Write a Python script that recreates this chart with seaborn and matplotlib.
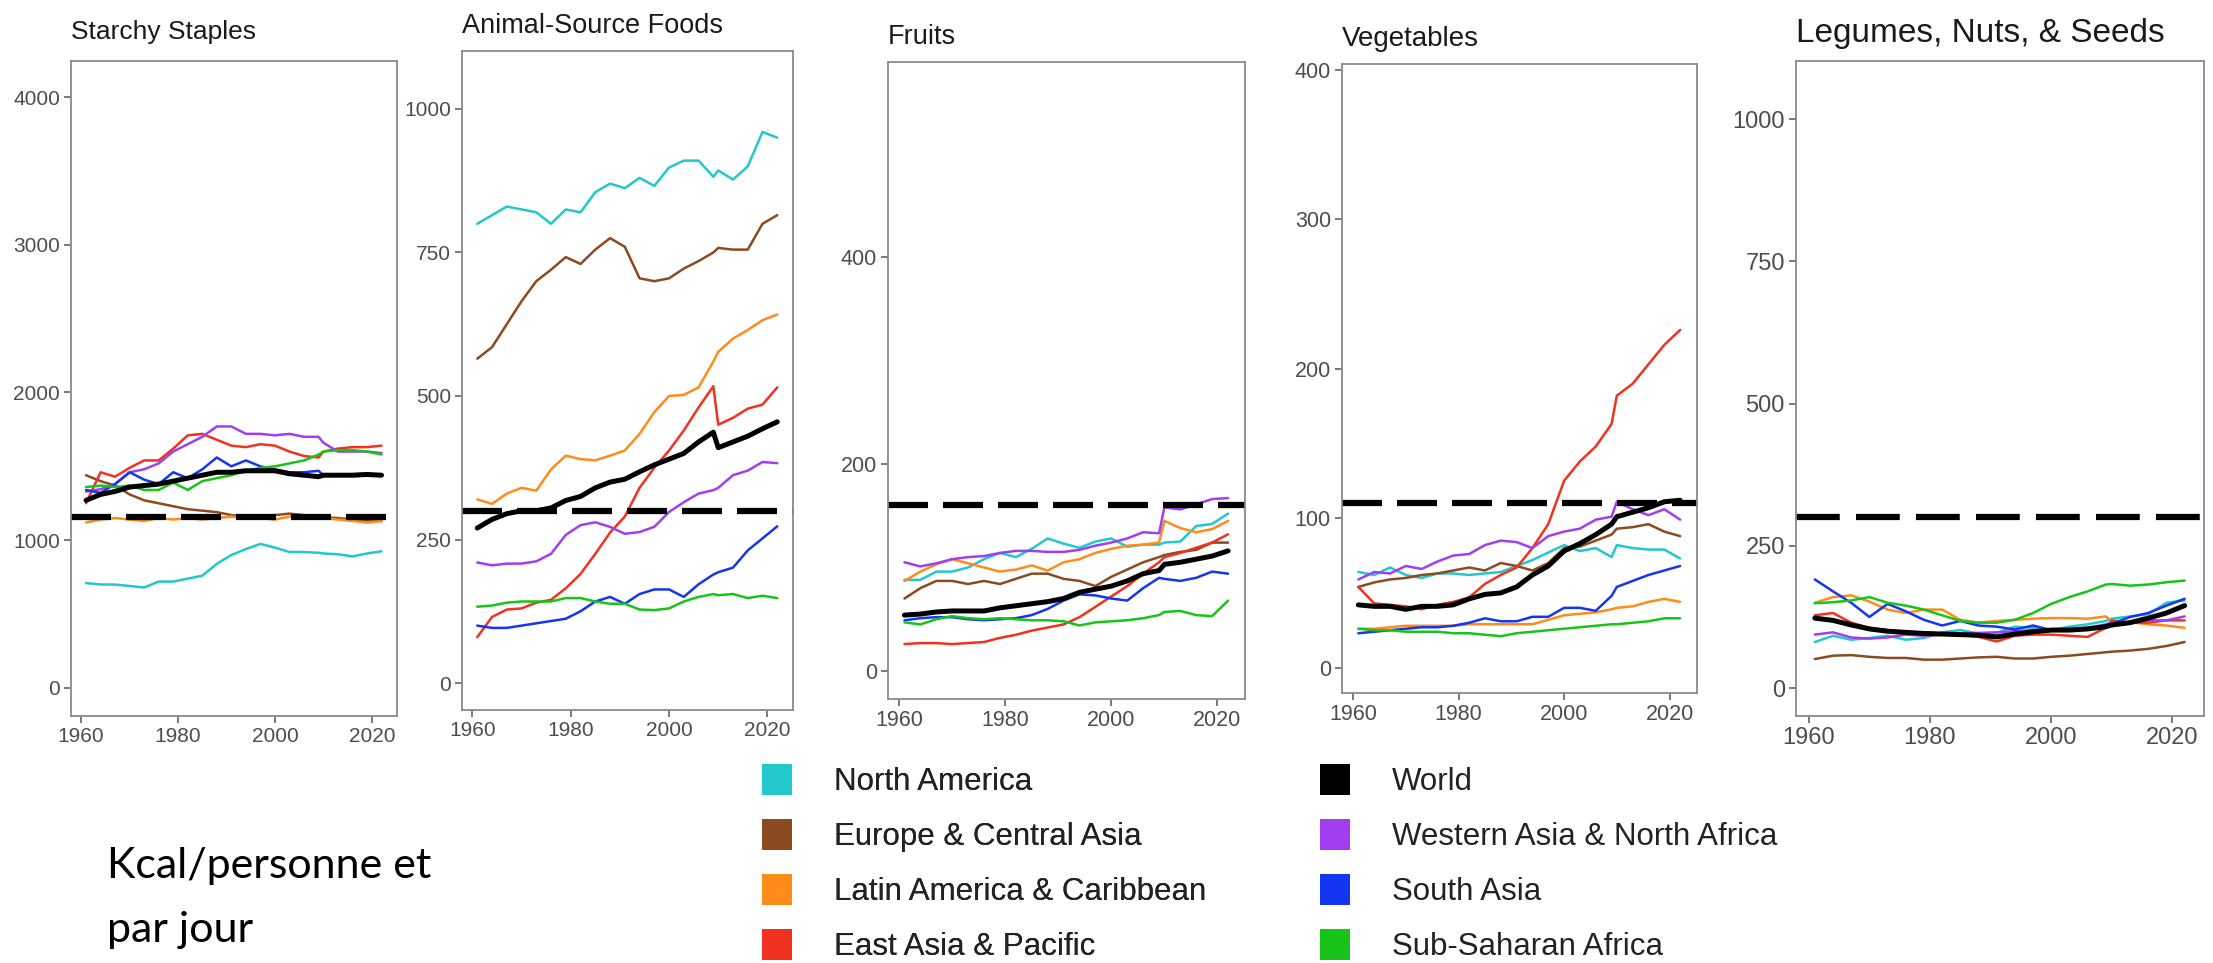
import matplotlib
matplotlib.use("Agg")
import matplotlib.pyplot as plt
from matplotlib.patches import Patch
import seaborn as sns
import pandas as pd

# ---- data (kcal / person / day) ----
YEARS = [1961, 1964, 1967, 1970, 1973, 1976, 1979, 1982, 1985, 1988, 1991,
         1994, 1997, 2000, 2003, 2006, 2009, 2010, 2013, 2016, 2019, 2022]

REGIONS = ["North America", "Europe & Central Asia", "Latin America & Caribbean",
           "East Asia & Pacific", "World", "Western Asia & North Africa",
           "South Asia", "Sub-Saharan Africa"]
COLORS = ["#22c8cc", "#8b4a20", "#ff8c1a", "#f0321e",
          "#000000", "#a03ef0", "#1436f0", "#18c418"]

PANEL_TITLES = ["Starchy Staples", "Animal-Source Foods", "Fruits",
                "Vegetables", "Legumes, Nuts, & Seeds"]
REF_LINES = [1160, 300, 160, 110, 300]
Y_TICKS = [[0, 1000, 2000, 3000, 4000], [0, 250, 500, 750, 1000], [0, 200, 400],
           [0, 100, 200, 300, 400], [0, 250, 500, 750, 1000]]
X_TICKS = [1960, 1980, 2000, 2020]

# Starchy staples
ss_na = [710, 700, 700, 690, 680, 720, 720, 740, 760, 840, 900, 940, 975, 950, 920, 920, 915, 910, 905, 890, 910, 925]
ss_eca = [1440, 1400, 1370, 1310, 1270, 1250, 1230, 1210, 1200, 1190, 1170, 1160, 1160, 1170, 1180, 1170, 1160, 1155, 1150, 1140, 1130, 1130]
ss_lac = [1120, 1140, 1150, 1140, 1130, 1150, 1140, 1150, 1140, 1150, 1160, 1150, 1150, 1140, 1160, 1160, 1150, 1150, 1140, 1130, 1120, 1130]
ss_eap = [1250, 1460, 1430, 1490, 1540, 1540, 1620, 1710, 1720, 1680, 1640, 1630, 1650, 1640, 1600, 1570, 1560, 1600, 1620, 1630, 1630, 1640]
ss_world = [1270, 1310, 1330, 1360, 1370, 1380, 1400, 1420, 1440, 1460, 1460, 1470, 1470, 1470, 1450, 1440, 1430, 1440, 1440, 1440, 1445, 1440]
ss_wana = [1330, 1345, 1380, 1460, 1480, 1520, 1600, 1650, 1700, 1770, 1770, 1720, 1720, 1710, 1720, 1700, 1700, 1660, 1600, 1600, 1600, 1590]
ss_sa = [1340, 1320, 1380, 1460, 1410, 1380, 1460, 1420, 1480, 1560, 1500, 1540, 1500, 1480, 1460, 1460, 1470, 1440, 1440, 1445, 1450, 1440]
ss_ssa = [1360, 1370, 1360, 1370, 1340, 1340, 1390, 1340, 1400, 1420, 1440, 1470, 1490, 1500, 1520, 1540, 1580, 1600, 1610, 1610, 1600, 1580]

# Animal-source foods
asf_na = [800, 815, 830, 825, 820, 800, 825, 820, 855, 870, 862, 880, 866, 898, 910, 910, 882, 893, 877, 900, 960, 950]
asf_eca = [565, 585, 625, 665, 700, 720, 742, 730, 755, 775, 760, 705, 700, 705, 722, 735, 750, 758, 755, 755, 800, 815]
asf_lac = [320, 312, 330, 340, 335, 372, 396, 390, 388, 396, 405, 434, 472, 500, 502, 515, 560, 577, 600, 615, 632, 642]
asf_eap = [80, 115, 128, 130, 140, 145, 165, 190, 225, 262, 290, 340, 375, 405, 440, 480, 517, 450, 462, 478, 485, 515]
asf_world = [270, 285, 295, 300, 300, 305, 318, 325, 340, 350, 355, 368, 380, 390, 400, 420, 437, 410, 420, 430, 443, 455]
asf_wana = [210, 205, 208, 208, 212, 225, 258, 275, 280, 272, 260, 263, 272, 298, 315, 330, 336, 340, 362, 370, 385, 383]
asf_sa = [100, 96, 96, 100, 104, 108, 112, 125, 142, 150, 138, 155, 163, 163, 150, 172, 189, 193, 201, 231, 252, 273]
asf_ssa = [133, 135, 140, 142, 142, 142, 148, 148, 142, 138, 138, 128, 127, 130, 142, 150, 155, 153, 155, 148, 152, 148]

# Fruits
fr_na = [88, 88, 96, 96, 100, 108, 114, 110, 118, 128, 123, 119, 125, 128, 120, 122, 122, 124, 125, 140, 142, 152]
fr_eca = [70, 80, 87, 87, 84, 87, 84, 89, 94, 94, 89, 87, 82, 91, 98, 105, 110, 112, 115, 117, 124, 124]
fr_lac = [87, 96, 103, 108, 104, 100, 96, 98, 102, 97, 105, 108, 114, 118, 121, 122, 124, 145, 138, 134, 137, 145]
fr_eap = [26, 27, 27, 26, 27, 28, 32, 35, 39, 42, 45, 52, 62, 72, 82, 94, 105, 110, 114, 119, 124, 132]
fr_world = [54, 55, 57, 58, 58, 58, 61, 63, 65, 67, 70, 76, 79, 82, 87, 94, 97, 103, 105, 108, 111, 116]
fr_wana = [105, 101, 104, 108, 110, 111, 114, 116, 116, 115, 115, 117, 121, 124, 128, 134, 133, 158, 156, 161, 166, 167]
fr_sa = [49, 51, 52, 52, 50, 49, 50, 51, 54, 60, 68, 74, 73, 70, 68, 80, 90, 89, 87, 90, 96, 94]
fr_ssa = [47, 45, 50, 53, 51, 50, 51, 50, 49, 49, 48, 44, 47, 48, 49, 51, 54, 57, 58, 54, 53, 68]

# Vegetables
veg_na = [64, 62, 67, 62, 60, 63, 63, 62, 63, 64, 68, 72, 77, 82, 78, 80, 74, 82, 80, 79, 79, 73]
veg_eca = [54, 57, 59, 60, 62, 63, 65, 67, 65, 70, 68, 65, 70, 80, 81, 85, 89, 93, 94, 96, 91, 88]
veg_lac = [26, 26, 27, 28, 28, 28, 28, 29, 29, 29, 29, 29, 32, 35, 36, 37, 39, 40, 41, 44, 46, 44]
veg_eap = [54, 43, 42, 41, 39, 42, 44, 47, 56, 62, 67, 80, 96, 125, 138, 148, 163, 182, 190, 203, 216, 226]
veg_world = [42, 41, 41, 39, 41, 41, 42, 46, 49, 50, 54, 62, 68, 78, 83, 89, 96, 101, 104, 107, 111, 112]
veg_wana = [59, 64, 63, 68, 66, 71, 75, 76, 82, 85, 84, 80, 88, 91, 93, 99, 101, 111, 106, 102, 106, 99]
veg_sa = [23, 24, 25, 26, 27, 27, 28, 30, 33, 31, 31, 34, 34, 40, 40, 38, 48, 54, 58, 62, 65, 68]
veg_ssa = [26, 25, 25, 24, 24, 24, 23, 23, 22, 21, 23, 24, 25, 26, 27, 28, 29, 29, 30, 31, 33, 33]

# Legumes, nuts & seeds
lg_na = [81, 92, 85, 88, 92, 85, 88, 98, 102, 96, 97, 108, 106, 102, 108, 112, 118, 122, 126, 130, 150, 154]
lg_eca = [51, 57, 58, 55, 53, 53, 50, 50, 52, 54, 55, 52, 52, 55, 57, 60, 63, 64, 66, 69, 74, 81]
lg_lac = [150, 160, 163, 152, 138, 132, 138, 138, 120, 115, 118, 120, 122, 123, 123, 122, 126, 118, 116, 112, 110, 106]
lg_eap = [128, 132, 115, 106, 102, 98, 98, 96, 94, 90, 82, 92, 94, 94, 92, 90, 106, 119, 115, 115, 119, 119]
lg_world = [123, 119, 111, 104, 100, 98, 96, 95, 94, 93, 90, 95, 99, 102, 102, 104, 108, 111, 115, 123, 132, 145]
lg_wana = [94, 98, 89, 87, 89, 94, 92, 94, 95, 97, 98, 100, 102, 102, 104, 106, 112, 115, 115, 119, 119, 126]
lg_sa = [191, 170, 150, 125, 148, 135, 120, 110, 118, 110, 108, 103, 110, 102, 104, 103, 110, 113, 125, 132, 145, 157]
lg_ssa = [149, 151, 154, 160, 150, 145, 138, 128, 118, 115, 115, 120, 132, 148, 160, 170, 182, 183, 180, 182, 186, 189]

PANEL_SERIES = [
    [ss_na, ss_eca, ss_lac, ss_eap, ss_world, ss_wana, ss_sa, ss_ssa],
    [asf_na, asf_eca, asf_lac, asf_eap, asf_world, asf_wana, asf_sa, asf_ssa],
    [fr_na, fr_eca, fr_lac, fr_eap, fr_world, fr_wana, fr_sa, fr_ssa],
    [veg_na, veg_eca, veg_lac, veg_eap, veg_world, veg_wana, veg_sa, veg_ssa],
    [lg_na, lg_eca, lg_lac, lg_eap, lg_world, lg_wana, lg_sa, lg_ssa],
]

# ---- layout (pixels in a 2213x963 canvas) ----
W, H = 2213, 963
BOXES = [(71, 397, 61, 716), (462, 793, 51, 710), (888, 1245, 62, 699),
         (1342, 1697, 64, 693), (1796, 2204, 61, 716)]
Y_LIMITS = [(-190, 4244), (-47, 1101), (-27, 588), (-17, 404), (-49, 1102)]
TITLE_SIZES = [19, 19.5, 19.5, 20, 24]
TITLE_PADS = [16, 13, 13, 13, 14]
TICK_SIZES = [15, 15, 15.5, 15.5, 17]
DASHES = [(6.4, 2.4)] * 4 + [(7.0, 2.6)]


def long_table(series):
    rows = []
    for region, vals in zip(REGIONS, series):
        for yr, v in zip(YEARS, vals):
            rows.append((region, yr, v))
    return pd.DataFrame(rows, columns=["region", "year", "kcal"])


sns.set_theme(style="ticks")
plt.rcParams["font.family"] = ["Liberation Sans", "DejaVu Sans"]

palette = dict(zip(REGIONS, COLORS))
regional = [r for r in REGIONS if r != "World"]

fig = plt.figure(figsize=(W / 100, H / 100), dpi=100)

for i, series in enumerate(PANEL_SERIES):
    left, right, top, bottom = BOXES[i]
    ax = fig.add_axes([left / W, 1 - bottom / H, (right - left) / W, (bottom - top) / H])
    df = long_table(series)

    sns.lineplot(data=df[df.region != "World"], x="year", y="kcal", hue="region",
                 hue_order=regional, palette=palette, linewidth=1.8,
                 estimator=None, legend=False, ax=ax)
    sns.lineplot(data=df[df.region == "World"], x="year", y="kcal", color="black",
                 linewidth=3.6, estimator=None, legend=False, ax=ax)
    ax.axhline(REF_LINES[i], color="black", linewidth=4.5, linestyle=(0, DASHES[i]))

    ax.set_xlim(1957.9, 2025.2)
    ax.set_ylim(*Y_LIMITS[i])
    ax.set_xticks(X_TICKS)
    ax.set_yticks(Y_TICKS[i])
    ax.set_xlabel("")
    ax.set_ylabel("")
    ax.tick_params(direction="out", length=5, width=1.1, color="#555555",
                   labelcolor="#4d4d4d", labelsize=TICK_SIZES[i], pad=3)
    for sp in ax.spines.values():
        sp.set_visible(True)
        sp.set_color("#8a8a8a")
        sp.set_linewidth(1.3)
    ax.set_title(PANEL_TITLES[i], loc="left", fontsize=TITLE_SIZES[i],
                 color="#1a1a1a", pad=TITLE_PADS[i])

# legend, two columns
handles = [Patch(facecolor=c, edgecolor="none") for c in COLORS]
leg_kw = dict(frameon=False, fontsize=22.5, handlelength=0.95, handleheight=1.15,
              handletextpad=1.35, labelspacing=0.7, borderpad=0, borderaxespad=0,
              loc="upper left", labelcolor="#222222")
leg1 = fig.legend(handles[:4], REGIONS[:4], bbox_to_anchor=(762 / W, 1 - 764 / H), **leg_kw)
fig.add_artist(leg1)
fig.legend(handles[4:], REGIONS[4:], bbox_to_anchor=(1320 / W, 1 - 764 / H), **leg_kw)

note_kw = dict(fontsize=31, family=["Lato", "DejaVu Sans"], color="black", va="baseline")
fig.text(107 / W, 1 - 878 / H, "Kcal/personne et", **note_kw)
fig.text(107 / W, 1 - 942 / H, "par jour", **note_kw)

fig.savefig("out.png", dpi=100, facecolor="white")
